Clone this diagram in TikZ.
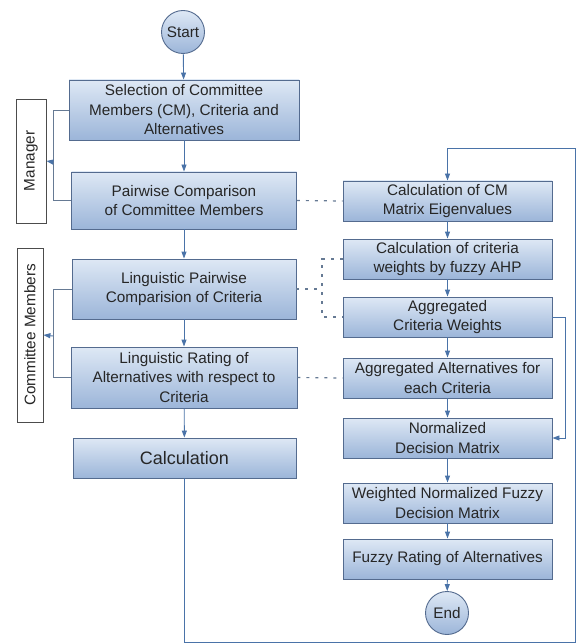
\documentclass[tikz,border=0pt]{standalone}
\usepackage{fontspec}
\setmainfont{Liberation Sans}
\usetikzlibrary{arrows.meta}
\newlength{\du}
\setlength{\du}{1pt}
\definecolor{boxtop}{rgb}{0.870000, 0.910000, 0.960000}
\definecolor{boxbottom}{rgb}{0.610000, 0.710000, 0.850000}
\definecolor{boxline}{rgb}{0.330000, 0.420000, 0.560000}
\definecolor{arrowblue}{rgb}{0.290000, 0.450000, 0.660000}
\definecolor{linkgray}{rgb}{0.400000, 0.480000, 0.580000}
\tikzset{
  stepbox/.style={draw=boxline, line width=0.9\du, top color=boxtop, bottom color=boxbottom,
    align=center, font=\fontsize{15.3}{19.5}\selectfont, text=black!85, inner sep=1\du},
  terminal/.style={stepbox, circle, minimum size=43\du},
  rolebox/.style={draw=black!70, line width=0.8\du, fill=white, rotate=90, inner sep=0pt,
    font=\fontsize{15.3}{17}\selectfont, text=black!85},
  flow/.style={draw=arrowblue, line width=0.9\du, -{Triangle[length=7pt,width=5pt]}},
  bracket/.style={draw=linkgray, line width=0.9\du},
  link/.style={draw=linkgray, line width=1.2\du, dash pattern=on 3pt off 6pt}
}

\begin{document}
\begin{tikzpicture}
\useasboundingbox (0\du,0\du) rectangle (576\du,-644\du);
% left column
\node[terminal] (start) at (183\du,-32\du){Start};
\node[stepbox, minimum width=230\du, minimum height=60\du] (sel) at (184\du,-110\du){Selection of Committee\\Members (CM), Criteria and\\Alternatives};
\node[stepbox, minimum width=225\du, minimum height=57\du] (pair) at (184\du,-200.5\du){Pairwise Comparison\\of Committee Members};
\node[stepbox, minimum width=224\du, minimum height=60\du] (lpair) at (184\du,-289\du){Linguistic Pairwise\\Comparision of Criteria};
\node[stepbox, minimum width=226\du, minimum height=61\du] (lrate) at (184\du,-377.5\du){Linguistic Rating of\\Alternatives with respect to\\Criteria};
\node[stepbox, minimum width=223\du, minimum height=40\du, font=\fontsize{18}{20}\selectfont] (calc) at (184.5\du,-458\du){Calculation};
% roles
\node[rolebox, minimum width=124\du, minimum height=30\du] (mgr) at (31\du,-161\du){Manager};
\node[rolebox, minimum width=174\du, minimum height=26\du] (cmem) at (30\du,-335\du){Committee Members};
% right column
\node[stepbox, minimum width=209\du, minimum height=40\du] (cmeig) at (447.5\du,-201\du){Calculation of CM\\Matrix Eigenvalues};
\node[stepbox, minimum width=209\du, minimum height=40\du] (fahp) at (447.5\du,-259\du){Calculation of criteria\\weights by fuzzy AHP};
\node[stepbox, minimum width=209\du, minimum height=40\du] (acw) at (447.5\du,-317\du){Aggregated\\Criteria Weights};
\node[stepbox, minimum width=209\du, minimum height=40\du] (aalt) at (447.5\du,-378\du){Aggregated Alternatives for\\each Criteria};
\node[stepbox, minimum width=209\du, minimum height=40\du] (norm) at (447.5\du,-438\du){Normalized\\Decision Matrix};
\node[stepbox, minimum width=209\du, minimum height=40\du] (wnorm) at (447.5\du,-503\du){Weighted Normalized Fuzzy\\Decision Matrix};
\node[stepbox, minimum width=209\du, minimum height=40\du] (frate) at (447.5\du,-559\du){Fuzzy Rating of Alternatives};
\node[terminal] (end) at (447\du,-613\du){End};
% helper points
\coordinate (mgrbr) at (53\du,-162\du);
\coordinate (cmbr) at (53\du,-336\du);
\coordinate (joint) at (322\du,-289\du);
\coordinate (loopbr) at (575.5\du,-642\du);
\coordinate (looptr) at (575.5\du,-148\du);
% main flow
\draw[flow] (start) -- (sel);
\draw[flow] (sel) -- (pair);
\draw[flow] (pair) -- (lpair);
\draw[flow] (lpair) -- (lrate);
\draw[flow] (lrate) -- (calc);
\draw[flow] (cmeig) -- (fahp);
\draw[flow] (fahp) -- (acw);
\draw[flow] (acw) -- (aalt);
\draw[flow] (aalt) -- (norm);
\draw[flow] (norm) -- (wnorm);
\draw[flow] (wnorm) -- (frate);
\draw[flow] (frate) -- (end);
% loop from calculation
\draw[flow] (calc.south) -- (calc.south |- loopbr) -- (loopbr) -- (looptr) -- (cmeig.north |- looptr) -- (cmeig.north);
\draw[flow] (acw.east) -- ++(13\du,0) |- (norm.east);
% roles
\draw[bracket] (sel.west) -- (sel.west -| mgrbr) -- (pair.west -| mgrbr) -- (pair.west);
\draw[flow] (mgrbr) -- (mgr.south);
\draw[bracket] (lpair.west) -- (lpair.west -| cmbr) -- (lrate.west -| cmbr) -- (lrate.west);
\draw[flow] (cmbr) -- (cmem.south);
% dashed links
\draw[link] (pair.east) -- (cmeig.west);
\draw[link] (lpair.east) -- (joint);
\draw[link] (fahp.west) -| (joint) |- (acw.west);
\draw[link] (lrate.east) -- (aalt.west);
\end{tikzpicture}
\end{document}
